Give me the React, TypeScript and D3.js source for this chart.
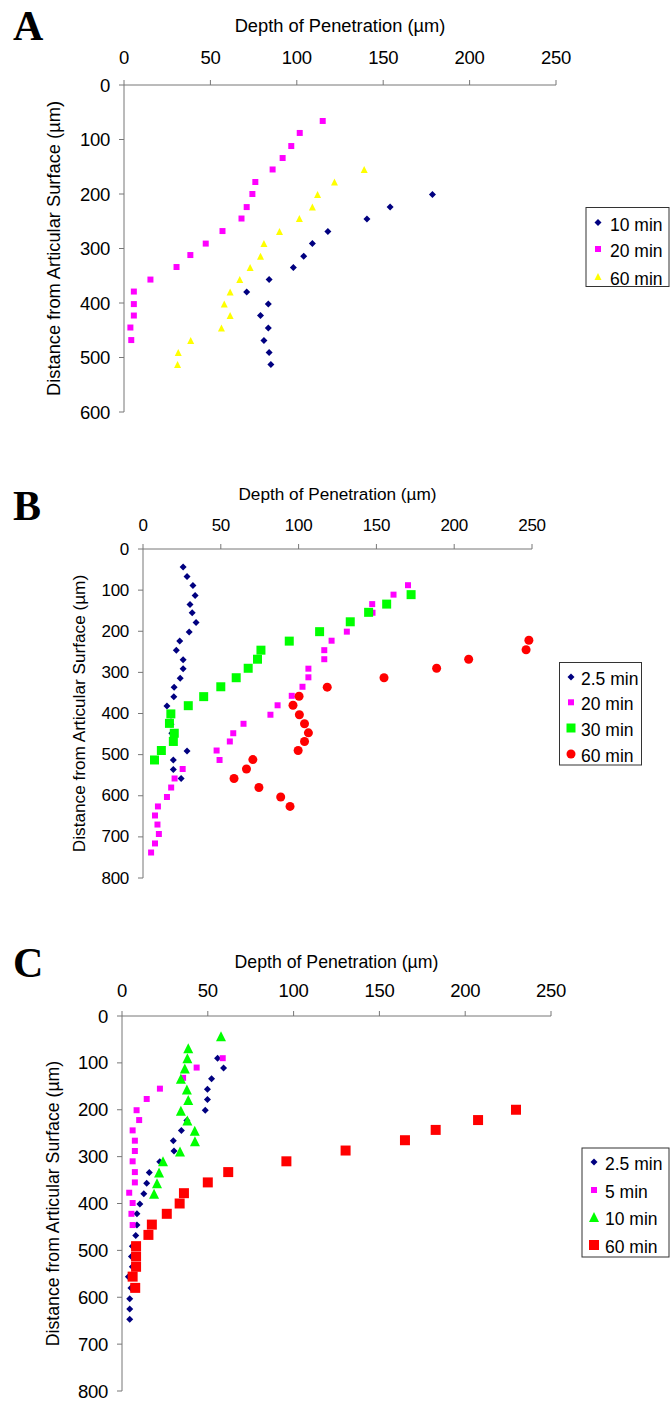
import React from "react";
import * as d3 from "d3";

// ---------- DATA (value = depth of penetration µm, depth = distance from articular surface µm) ----------
const xTicks = [0, 50, 100, 150, 200, 250];
const yTicksA = [0, 100, 200, 300, 400, 500, 600];
const yTicksBC = [0, 100, 200, 300, 400, 500, 600, 700, 800];

// Panel A
const a10min: [number, number][] = [[178.5,201],[154,224],[140.6,246],[118,269],[109,291],[104,314],[98,335],[84,357],[71,380],[83.5,402],[79,423],[83.5,446],[81,469],[84,491],[85,513]];
const a20min: [number, number][] = [[115,66],[101.7,88],[96.8,112],[91.8,134],[86,155],[76,178],[74.3,200],[71,224],[68,245],[57,268],[47.3,291],[38.4,312],[30.4,334],[15.3,357],[5.7,379],[5.7,402],[5.7,423],[3.7,445],[4.2,468]];
const a60min: [number, number][] = [[139,155],[121.8,178],[112,201],[109,224],[101.5,245],[90,269],[81,291],[79,314],[73,335],[67,357],[61.4,380],[58,402],[61.4,423],[56.4,446],[38.6,469],[31.4,491],[31,513]];

// Panel B
const b2_5min: [number, number][] = [[25.8,44],[28.3,67],[32.1,89],[33.5,113],[30.2,135],[31.6,155],[34.1,179],[29.7,202],[23.6,224],[21.4,246],[25.8,269],[25.8,291],[23.9,314],[20,336],[19.8,359],[15.4,382],[18,404],[18,426],[18.5,448],[19.5,470],[28.3,491],[19.5,513],[19.5,536],[24.5,558]];
const b20min: [number, number][] = [[170.3,88],[161,111],[147.3,134],[147.5,155],[131,201],[121.2,223],[116.5,246],[116.5,268],[106.3,291],[106.3,312],[102.5,335],[95.6,357],[86.5,380],[81.9,403],[64.6,425],[58,448],[55.8,468],[47.3,490],[49.2,513],[25.5,535],[20.3,558],[18.1,580],[15.4,603],[9.6,626],[7.7,648],[9.3,670],[10.2,693],[7.7,716],[5.2,738]];
const b30min: [number, number][] = [[172.3,111],[156.6,134],[145,154],[133.2,177],[113.5,201],[94,224],[75.8,246],[73.6,268],[67.6,290],[59.9,313],[50,335],[39,359],[29.1,381],[17.9,401],[17,424],[20.1,448],[19.5,468],[11.8,490],[7.4,513]];
const b60min: [number, number][] = [[248,222],[246.2,245],[209.3,268],[188.7,290],[154.9,313],[118.4,336],[100.3,358],[96.4,380],[100.5,403],[103.8,425],[106.3,447],[103.8,468],[99.7,490],[70.6,512],[66.5,535],[58.5,558],[74.5,580],[88.5,603],[94.5,626]];

// Panel C
const c2_5min: [number, number][] = [[55.7,90],[59.2,111],[52.2,134],[49.8,156],[49.8,178],[48.5,201],[37.8,223],[34.6,244],[29.9,266],[30.3,288],[22,311],[15.9,334],[14.4,357],[12.7,379],[10.4,401],[8.7,422],[8.7,446],[8,468],[6,491],[5.5,513],[6,535],[3.7,556],[5.2,580],[4.5,603],[4.5,625],[4.5,647]];
const c5min: [number, number][] = [[58.7,90],[43.5,110],[35.6,132],[22.1,155],[14.4,177],[8.5,201],[10,222],[6.2,244],[7.5,266],[7.5,288],[6.2,310],[7.5,333],[7.5,355],[4.2,377],[6.2,399],[5.5,422],[6.2,446]];
const c10min: [number, number][] = [[57.7,43],[38.6,69],[38.1,90],[36.6,112],[34.3,134],[37.8,157],[38.6,179],[34.3,202],[38.1,223],[42.4,245],[42.5,267],[33.8,289],[23.9,310],[21.6,334],[20.4,357],[18.7,379]];
const c60min: [number, number][] = [[229.6,200],[207.5,222],[182.8,243],[164.9,265],[130.3,287],[95.8,310],[61.9,333],[50,355],[36.1,378],[33.6,400],[26.1,422],[17.4,445],[15.4,467],[8.2,491],[8.2,513],[8.2,535],[6.2,556],[7.7,580]];

const xTitle = "Depth of Penetration (µm)";
const yTitle = "Distance from Articular Surface (µm)";

// ---------- RENDERING ----------
type Shape = "diamond" | "square" | "triangle" | "circle";
interface Series { name: string; data: [number, number][]; shape: Shape; color: string; size: number; }

function markerPath(shape: Shape, s: number): string {
  const h = s / 2;
  if (shape === "diamond") return `M0,${-h}L${h},0L0,${h}L${-h},0Z`;
  if (shape === "square") return `M${-h},${-h}H${h}V${h}H${-h}Z`;
  if (shape === "triangle") return `M0,${-h}L${h},${h}L${-h},${h}Z`;
  return d3.symbol().type(d3.symbolCircle).size(Math.PI * h * h)() || "";
}

interface PanelProps {
  label: string; labelX: number; labelY: number;
  x0: number; x1: number; y0: number; y1: number; yMax: number; yTicks: number[];
  titleY: number; tickLabelY: number; yTitleX: number; titleSize: number; tickSize: number;
  series: Series[];
  legend: { x: number; y: number; w: number; h: number; rowY: number[]; markerX: number; textX: number; fontSize: number };
}

const FONT = "'Liberation Sans', Arial, sans-serif";
const AXIS = "#777777";

function Panel(p: PanelProps) {
  const x = d3.scaleLinear().domain([0, 250]).range([p.x0, p.x1]);
  const y = d3.scaleLinear().domain([0, p.yMax]).range([p.y0, p.y1]);
  const cy = (p.y0 + p.y1) / 2;
  return (
    <g>
      <text x={p.labelX} y={p.labelY} fontFamily="'Liberation Serif', 'Times New Roman', serif" fontWeight="bold" fontSize={42}>{p.label}</text>
      <text x={(p.x0 + p.x1) / 2} y={p.titleY} textAnchor="middle" dominantBaseline="central" fontFamily={FONT} fontSize={p.titleSize}>{xTitle}</text>
      {xTicks.map((t) => (
        <g key={"xt" + t}>
          <line x1={x(t)} x2={x(t)} y1={p.y0} y2={p.y0 - 5} stroke={AXIS} strokeWidth={1} />
          <text x={x(t)} y={p.tickLabelY} textAnchor="middle" dominantBaseline="central" fontFamily={FONT} fontSize={p.tickSize} letterSpacing={-0.3}>{t}</text>
        </g>
      ))}
      <line x1={p.x0} x2={p.x1} y1={p.y0} y2={p.y0} stroke={AXIS} strokeWidth={1} />
      {p.yTicks.map((t) => (
        <g key={"yt" + t}>
          <line x1={p.x0} x2={p.x0 - 5} y1={y(t)} y2={y(t)} stroke={AXIS} strokeWidth={1} />
          <text x={p.x0 - 14} y={y(t)} textAnchor="end" dominantBaseline="central" fontFamily={FONT} fontSize={p.tickSize} letterSpacing={-0.3}>{t}</text>
        </g>
      ))}
      <line x1={p.x0} x2={p.x0} y1={p.y0} y2={p.y1} stroke={AXIS} strokeWidth={1} />
      <text transform={`translate(${p.yTitleX},${cy}) rotate(-90)`} textAnchor="middle" dominantBaseline="central" fontFamily={FONT} fontSize={p.titleSize}>{yTitle}</text>
      {p.series.map((s) => (
        <g key={s.name}>
          {s.data.map((d, i) => (
            <path key={i} d={markerPath(s.shape, s.size)} transform={`translate(${x(d[0])},${y(d[1])})`} fill={s.color} />
          ))}
        </g>
      ))}
      <rect x={p.legend.x} y={p.legend.y} width={p.legend.w} height={p.legend.h} fill="white" stroke="#333" strokeWidth={1} />
      {p.series.map((s, i) => (
        <g key={"lg" + s.name}>
          <path d={markerPath(s.shape, s.size)} transform={`translate(${p.legend.markerX},${p.legend.rowY[i] - 2})`} fill={s.color} />
          <text x={p.legend.textX} y={p.legend.rowY[i]} dominantBaseline="central" fontFamily={FONT} fontSize={p.legend.fontSize}>{s.name}</text>
        </g>
      ))}
    </g>
  );
}

export default function App() {
  const NAVY = "#000080", MAG = "#ff00ff", YEL = "#ffff00", GRN = "#00ff00", RED = "#ff0000";
  return (
    <svg width={670} height={1402} style={{ position: "absolute", left: 0, top: 0, background: "white" }}>
      <rect x={0} y={0} width={670} height={1402} fill="white" />
      <Panel label="A" labelX={13} labelY={40} x0={124} x1={556} y0={85} y1={412} yMax={600} yTicks={yTicksA}
        titleY={25} tickLabelY={57} yTitleX={53} titleSize={18.3} tickSize={18.5}
        series={[
          { name: "10 min", data: a10min, shape: "diamond", color: NAVY, size: 7 },
          { name: "20 min", data: a20min, shape: "square", color: MAG, size: 6 },
          { name: "60 min", data: a60min, shape: "triangle", color: YEL, size: 7 },
        ]}
        legend={{ x: 586, y: 207.5, w: 83, h: 79, rowY: [224.5, 251, 278.5], markerX: 598, textX: 610, fontSize: 17.5 }}
      />
      <Panel label="B" labelX={13} labelY={520} x0={143} x1={532} y0={549} y1={878} yMax={800} yTicks={yTicksBC}
        titleY={494} tickLabelY={525} yTitleX={79} titleSize={17.2} tickSize={17}
        series={[
          { name: "2.5 min", data: b2_5min, shape: "diamond", color: NAVY, size: 7 },
          { name: "20 min", data: b20min, shape: "square", color: MAG, size: 6 },
          { name: "30 min", data: b30min, shape: "square", color: GRN, size: 9 },
          { name: "60 min", data: b60min, shape: "circle", color: RED, size: 9 },
        ]}
        legend={{ x: 559.5, y: 662.5, w: 82, h: 102.5, rowY: [679, 704.3, 730, 756], markerX: 571, textX: 581, fontSize: 17.5 }}
      />
      <Panel label="C" labelX={13} labelY={977} x0={122} x1={551} y0={1016} y1={1391} yMax={800} yTicks={yTicksBC}
        titleY={962} tickLabelY={990} yTitleX={53} titleSize={17.7} tickSize={18.5}
        series={[
          { name: "2.5 min", data: c2_5min, shape: "diamond", color: NAVY, size: 7 },
          { name: "5 min", data: c5min, shape: "square", color: MAG, size: 6 },
          { name: "10 min", data: c10min, shape: "triangle", color: GRN, size: 10 },
          { name: "60 min", data: c60min, shape: "square", color: RED, size: 10 },
        ]}
        legend={{ x: 582, y: 1148, w: 87, h: 109, rowY: [1164, 1192, 1219, 1247], markerX: 594, textX: 605, fontSize: 17.5 }}
      />
    </svg>
  );
}
